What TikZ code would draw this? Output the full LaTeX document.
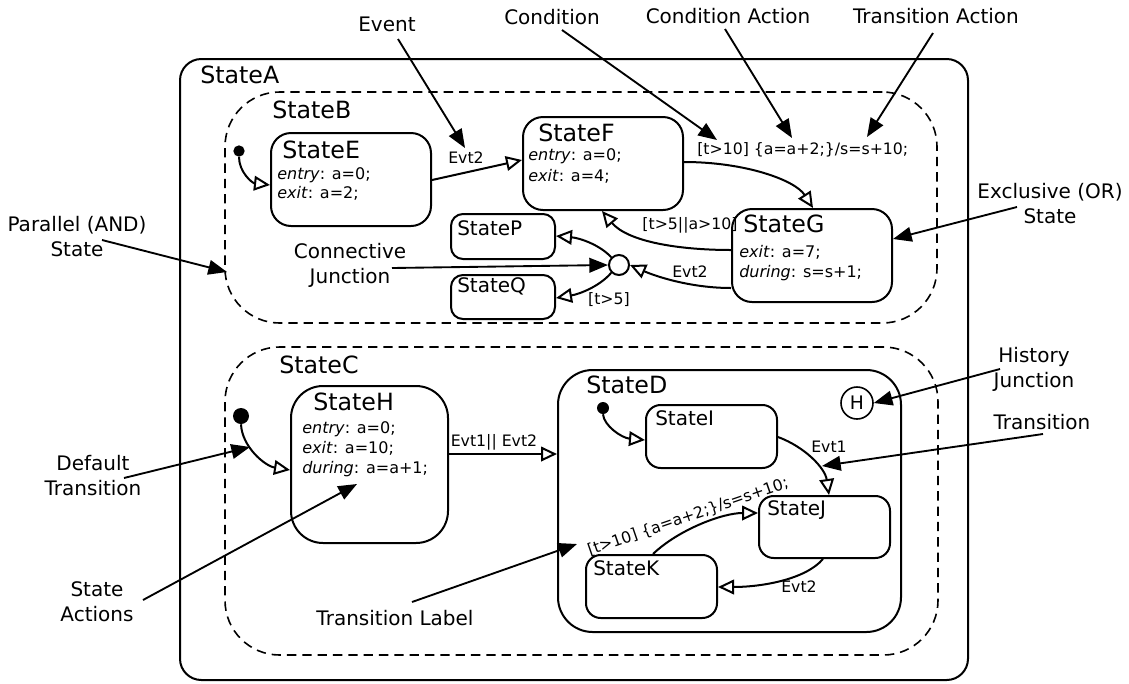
\documentclass[tikz,border=0pt]{standalone}
\usepackage{fontspec}
\setmainfont{DejaVu Sans}
\usetikzlibrary{arrows.meta,fit}
\tikzset{
  x=0.75pt, y=-0.75pt,
  lw/.style={line width=1.5pt},
  statebox/.style={draw, lw, rounded corners=#1, inner sep=0pt},
  orbox/.style={draw, line width=1.2pt, dash pattern=on 7pt off 4.5pt, rounded corners=41pt, inner sep=0pt},
  bigname/.style={anchor=base west, inner sep=0pt, font=\fontsize{17.8}{20}\selectfont},
  smallname/.style={anchor=base west, inner sep=0pt, font=\fontsize{15}{18}\selectfont},
  act/.style={anchor=base west, inner sep=0pt, font=\fontsize{12}{14}\selectfont},
  tlabel/.style={inner sep=0pt, font=\fontsize{11.8}{14}\selectfont},
  annot/.style={align=center, inner sep=0pt, font=\fontsize{15}{18.75}\selectfont},
  trans/.style={lw, -{Triangle[open, length=12pt, width=11pt]}},
  pointer/.style={line width=1.4pt, -{Triangle[length=14pt, width=11pt]}},
  dot/.style={circle, fill=black, inner sep=0pt, minimum size=#1},
}
\begin{document}
\begin{tikzpicture}
\useasboundingbox (0,0) rectangle (1129,683);

% ---- StateA
\node[statebox=16pt, fit={(180,59) (968,680)}] (A) {};
\node[bigname] (At) at (200,83) {StateA};

% ---- StateB
\node[orbox, fit={(225,92) (937,323)}] (B) {};
\node[bigname] (Bt) at (272,118) {StateB};

\node[statebox=15pt, fit={(271,133) (431,226)}] (E) {};
\node[bigname] (Et) at (282,158) {StateE};
\node[act] (Ea) at (277,179) {\textit{entry}: a=0;};
\node[act] (Eb) at (277,198) {\textit{exit}: a=2;};

\node[statebox=15pt, fit={(523,117) (683,210)}] (F) {};
\node[bigname] (Ft) at (538,141) {StateF};
\node[act] (Fa) at (528,160) {\textit{entry}: a=0;};
\node[act] (Fb) at (528,181) {\textit{exit}: a=4;};

\node[statebox=15pt, fit={(732,209) (892,302)}] (G) {};
\node[bigname] (Gt) at (743,232) {StateG};
\node[act] (Ga) at (739,257) {\textit{exit}: a=7;};
\node[act] (Gb) at (739,277) {\textit{during}: s=s+1;};

\node[statebox=9pt, fit={(451,214) (555,259)}] (P) {};
\node[smallname] (Pt) at (457,235) {StateP};
\node[statebox=9pt, fit={(451,275) (555,319)}] (Q) {};
\node[smallname] (Qt) at (457,292) {StateQ};

\node[circle, draw, lw, minimum size=15pt, inner sep=0pt] (J0) at (619,265) {};
\node[dot=8.5pt] (dE) at (239,151) {};

% transitions in StateB
\draw[trans] (dE.south) .. controls (239,172) and (252,183) .. (E.west |- 0,185);
\draw[trans] (E.east |- 0,180) -- (F.west |- 0,160);
\node[tlabel] (l1) at (466,158) {Evt2};
\draw[trans] (F.east |- 0,162) .. controls (745,162) and (795,180) .. (G.north -| 813,0);
\node[tlabel, anchor=west] (l2) at (697,150) {[t>10] \{a=a+2;\}/s=s+10;};
\draw[trans] (G.west |- 0,250) .. controls (680,250) and (628,242) .. (F.south -| 602,0);
\node[tlabel] (l3) at (690,225) {[t>5||a>10]};
\draw[trans] (G.west |- 0,288) .. controls (690,288) and (655,276) .. (J0.east);
\node[tlabel] (l4) at (690,272) {Evt2};
\draw[trans] (J0.north west) .. controls (600,245) and (580,238) .. (P.east |- 0,236);
\draw[trans] (J0.south west) .. controls (600,286) and (580,294) .. (Q.east |- 0,298);
\node[tlabel] (l5) at (609,300) {[t>5]};

% ---- StateC
\node[orbox, fit={(225,347) (938,655)}] (C) {};
\node[bigname] (Ct) at (279,373) {StateC};

\node[statebox=24pt, fit={(291,386) (448,543)}] (H) {};
\node[bigname] (Ht) at (313,410) {StateH};
\node[act] (Ha) at (302,433) {\textit{entry}: a=0;};
\node[act] (Hb) at (302,453) {\textit{exit}: a=10;};
\node[act] (Hc) at (302,473) {\textit{during}: a=a+1;};
\node[dot=12pt] (dC) at (241,416) {};

\node[statebox=26pt, fit={(558,370) (901,632)}] (D) {};
\node[bigname] (Dt) at (586,393) {StateD};
\node[circle, draw, line width=1.2pt, minimum size=24pt, inner sep=0pt, font=\fontsize{14}{16}\selectfont] (Hj) at (857,403) {H};
\node[dot=9pt] (dD) at (603,408) {};

\node[statebox=11pt, fit={(646,405) (777,468)}] (I) {};
\node[smallname] (It) at (655,425) {StateI};
\node[statebox=11pt, fit={(759,496) (890,558)}] (Jst) {};
\node[smallname] (Jt) at (767,515) {StateJ};
\node[statebox=11pt, fit={(586,555) (717,618)}] (K) {};
\node[smallname] (Kt) at (593,575) {StateK};

\draw[trans] (dC.south) .. controls (242,447) and (265,466) .. (H.west |- 0,470);
\draw[trans] (H.east |- 0,454) -- (D.west |- 0,454);
\node[tlabel] (l6) at (494,442) {Evt1|| Evt2};
\draw[trans] (dD.south) .. controls (604,426) and (622,438) .. (I.west |- 0,440);
\draw[trans] (I.east |- 0,437) .. controls (805,447) and (825,468) .. (Jst.north -| 829,0);
\node[tlabel] (l7) at (829,447) {Evt1};
\draw[trans] (Jst.south -| 823,0) .. controls (805,580) and (760,587) .. (K.east |- 0,587);
\node[tlabel] (l8) at (799,587) {Evt2};
\draw[trans] (K.north -| 653,0) .. controls (678,530) and (722,513) .. (Jst.west |- 0,513);
\node[tlabel, rotate=19] (l9) at (688,517) {[t>10] \{a=a+2;\}/s=s+10;};

% ---- annotations
\node[annot] (n1) at (77,237) {Parallel (AND)\\State};
\coordinate (n1s) at (102,240); \coordinate (n1e) at (227,272);
\draw[pointer] (n1s) -- (n1e);

\node[annot] (n2) at (387,24) {Event};
\coordinate (n2s) at (398,39); \coordinate (n2e) at (465,148);
\draw[pointer] (n2s) -- (n2e);

\node[annot] (n3) at (552,17) {Condition};
\coordinate (n3s) at (562,30); \coordinate (n3e) at (717,140);
\draw[pointer] (n3s) -- (n3e);

\node[annot] (n4) at (728,16) {Condition Action};
\coordinate (n4s) at (725,29); \coordinate (n4e) at (792,138);
\draw[pointer] (n4s) -- (n4e);

\node[annot] (n5) at (936,16) {Transition Action};
\coordinate (n5s) at (933,33); \coordinate (n5e) at (867,137);
\draw[pointer] (n5s) -- (n5e);

\node[annot] (n6) at (1050,204) {Exclusive (OR)\\State};
\coordinate (n6s) at (1017,207);
\draw[pointer] (n6s) -- (G.east |- 0,239);

\node[annot] (n7) at (1034,369) {History\\Junction};
\coordinate (n7s) at (1000,369);
\draw[pointer] (n7s) -- (Hj.east);

\node[annot] (n8) at (1042,422) {Transition};
\coordinate (n8s) at (1043,434); \coordinate (n8e) at (822,466);
\draw[pointer] (n8s) -- (n8e);

\node[annot] (n9) at (350,265) {Connective\\Junction};
\coordinate (n9s) at (392,268);
\draw[pointer] (n9s) -- (J0.west);

\node[annot] (n10) at (93,476) {Default\\Transition};
\coordinate (n10s) at (124,478); \coordinate (n10e) at (250,447);
\draw[pointer] (n10s) -- (n10e);

\node[annot] (n11) at (97,602) {State\\Actions};
\coordinate (n11s) at (143,600); \coordinate (n11e) at (357,484);
\draw[pointer] (n11s) -- (n11e);

\node[annot] (n12) at (395,618) {Transition Label};
\coordinate (n12s) at (412,602); \coordinate (n12e) at (577,544);
\draw[pointer] (n12s) -- (n12e);
\end{tikzpicture}
\end{document}
